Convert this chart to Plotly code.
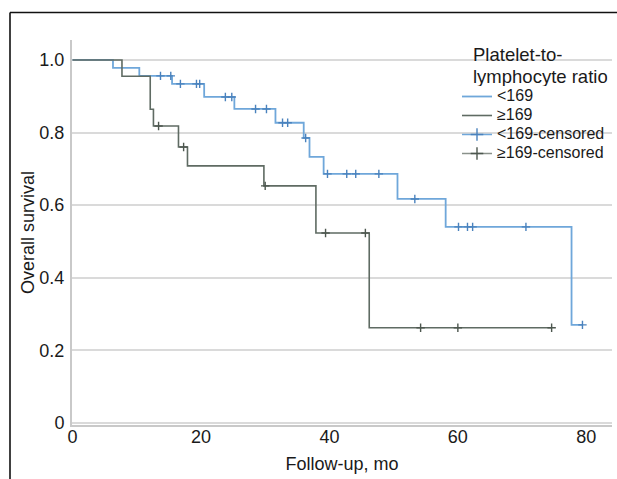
import plotly.graph_objects as go

# Kaplan-Meier step data (months, survival)
low_times = [0, 6.3, 10.4, 15.5, 20.5, 25.2, 31.6, 36.0, 36.9, 39.1, 50.6, 58.1, 77.7, 79.4]
low_surv = [1.0, 0.978, 0.956, 0.934, 0.898, 0.865, 0.827, 0.785, 0.733, 0.686, 0.617, 0.540, 0.270, 0.270]
high_times = [0, 7.7, 12.1, 12.6, 16.5, 17.9, 29.8, 37.9, 46.2, 74.6]
high_surv = [1.0, 0.955, 0.864, 0.818, 0.760, 0.708, 0.653, 0.523, 0.262, 0.262]

# censored times
low_cens = [13.7, 15.3, 16.8, 19.3, 19.8, 23.8, 24.8, 28.5, 30.2, 32.7, 33.5, 36.3,
            39.7, 42.7, 44.1, 47.7, 53.3, 60.1, 61.5, 62.3, 70.6, 79.4]
high_cens = [13.4, 17.3, 30.0, 39.4, 45.6, 54.2, 60.0, 74.6]

x_ticks = [0, 20, 40, 60, 80]
y_ticks = [0, 0.2, 0.4, 0.6, 0.8, 1.0]
y_ticklabels = ["0", "0.2", "0.4", "0.6", "0.8", "1.0"]

legend_title_lines = ["Platelet-to-", "lymphocyte ratio"]
names = ["<169", "≥169", "<169-censored", "≥169-censored"]

BLUE = "#6fa7da"
BLUE_M = "#4a82bd"
GRAY = "#5f6b63"
GRAY_M = "#4d574f"
FONT = "Liberation Sans, Arial, Helvetica, sans-serif"
TXT = "#1a1a1a"


def surv_at(t, times, surv):
    val = surv[0]
    for tt, ss in zip(times, surv):
        if tt <= t:
            val = ss
    return val


low_cens_s = [surv_at(t, low_times, low_surv) for t in low_cens]
high_cens_s = [surv_at(t, high_times, high_surv) for t in high_cens]


def lname(s):
    return "<span style='font-size:16px'>" + s.replace("<", "&lt;") + "</span>"


fig = go.Figure()
fig.add_trace(go.Scatter(x=low_times, y=low_surv, mode="lines", line=dict(color=BLUE, width=1.8, shape="hv"),
                         name=lname(names[0])))
fig.add_trace(go.Scatter(x=high_times, y=high_surv, mode="lines", line=dict(color=GRAY, width=1.6, shape="hv"),
                         name=lname(names[1])))
fig.add_trace(go.Scatter(x=low_cens, y=low_cens_s, mode="markers",
                         marker=dict(symbol="cross-thin", size=6, line=dict(color=BLUE_M, width=1.4)),
                         showlegend=False))
fig.add_trace(go.Scatter(x=high_cens, y=high_cens_s, mode="markers",
                         marker=dict(symbol="cross-thin", size=6, line=dict(color=GRAY_M, width=1.4)),
                         showlegend=False))
# legend entries for censored markers
fig.add_trace(go.Scatter(x=[None], y=[None], mode="lines+markers", line=dict(color=BLUE, width=1.5),
                         marker=dict(symbol="cross-thin", size=9, line=dict(color=BLUE_M, width=1.4)),
                         name=lname(names[2])))
fig.add_trace(go.Scatter(x=[None], y=[None], mode="lines+markers", line=dict(color="#8a918b", width=1.5),
                         marker=dict(symbol="cross-thin", size=9, line=dict(color=GRAY_M, width=1.4)),
                         name=lname(names[3])))

L, R, T, B = 72, 612, 40, 425
W, H = 617, 479


def px(x):
    return (x - L) / (R - L)


def py(y):
    return (B - y) / (B - T)


title_ann = [dict(text=txt, x=px(471), y=py(cy), xref="paper", yref="paper",
                  xanchor="left", yanchor="middle", align="left", showarrow=False, height=20,
                  font=dict(size=18.5, family=FONT, color=TXT))
             for txt, cy in zip(legend_title_lines, [54, 76])]

fig.update_layout(
    width=W, height=H,
    margin=dict(l=L, r=W - R, t=T, b=H - B, autoexpand=False),
    paper_bgcolor="white", plot_bgcolor="white",
    font=dict(family=FONT, size=18, color=TXT),
    showlegend=True,
    legend=dict(x=px(457), y=py(82), xanchor="left", yanchor="top",
                bgcolor="rgba(0,0,0,0)", font=dict(size=12, family=FONT, color=TXT),
                itemwidth=30, tracegroupgap=0),
    xaxis=dict(range=[-0.08, 84.0], tickvals=x_ticks, ticks="", showgrid=False, zeroline=False,
               showline=True, linecolor="#c9c9c9", linewidth=2, ticklabelstandoff=-6,
               tickfont=dict(size=18, family=FONT, color=TXT),
               title=dict(text="Follow-up, mo", font=dict(size=18, family=FONT, color=TXT), standoff=12)),
    yaxis=dict(range=[-0.006, 1.055], tickvals=y_ticks, ticktext=y_ticklabels, ticks="",
               showgrid=True, gridcolor="#dadada", gridwidth=2, zeroline=False,
               showline=True, linecolor="#c9c9c9", linewidth=2, ticklabelstandoff=2,
               tickfont=dict(size=18, family=FONT, color=TXT),
               title=dict(text="Overall survival", font=dict(size=18, family=FONT, color=TXT), standoff=0)),
    annotations=title_ann,
    shapes=[
        dict(type="line", xref="paper", yref="paper", x0=px(10), x1=px(617), y0=py(12.5), y1=py(12.5),
             line=dict(color="#111111", width=1.6)),
        dict(type="line", xref="paper", yref="paper", x0=px(10), x1=px(10), y0=py(12.5), y1=py(479),
             line=dict(color="#111111", width=1.6)),
    ],
)

fig.write_html("out.html")
